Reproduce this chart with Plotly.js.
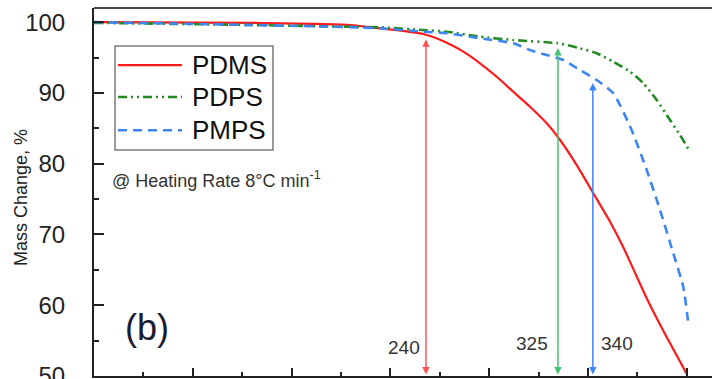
<!DOCTYPE html>
<html>
<head>
<meta charset="utf-8">
<script src="https://cdn.plot.ly/plotly-3.0.1.min.js"></script>
<style>
html,body{margin:0;padding:0;overflow:hidden;background:#fff;}
#chart{width:712px;height:379px;}
</style>
</head>
<body>
<div id="chart"></div>
<script>
// ---- data (temperature in °C, mass change in %) ----
var seriesNames = ["PDMS", "PDPS", "PMPS"];

var pdmsT = [100, 258, 359, 389.5, 433.3, 457, 473.8, 490.7, 507.6, 524.4, 541.3, 558.2, 569.9, 588.6, 605.4, 622.3, 635.7, 645.9, 659.4, 676.2, 689.8, 699.9];
var pdmsM = [100.0, 99.9, 99.6, 99.13, 98.33, 97.1, 95.83, 94.19, 92.29, 90.17, 88.05, 85.71, 83.7, 79.8, 75.82, 71.8, 68.2, 65.1, 61.0, 56.4, 52.9, 50.3];

var pdpsT = [100, 258, 359, 389.5, 433, 457, 490.7, 524.1, 569.9, 591.9, 608.8, 625.6, 642.5, 656, 669.5, 683, 693.1, 703.2];
var pdpsM = [99.9, 99.6, 99.35, 99.27, 98.89, 98.65, 97.95, 97.48, 97.01, 96.3, 95.6, 94.41, 93.0, 91.36, 89.0, 86.17, 84.05, 81.7];

var pmpsT = [100, 258, 359, 389.5, 433.3, 457, 490.7, 524.4, 541.3, 558.2, 575, 591.9, 608.8, 625.6, 644, 659.4, 672.9, 686.3, 696.4, 701.5];
var pmpsM = [100.0, 99.6, 99.3, 99.13, 98.65, 98.43, 97.72, 97.01, 96.06, 95.36, 94.65, 93.24, 91.82, 89.95, 84.8, 79.11, 73.46, 67.34, 62.62, 57.45];

// onset arrows
var onsetLabels = ["240", "325", "340"];
var onsetX = [436, 569.6, 604.9];     // where each arrow is drawn on the temperature axis
var onsetTop = [97.6, 96.35, 91.4];   // mass value at arrow tip

var yTickVals = [50, 60, 70, 80, 90, 100];
var yTickText = ["50", "60", "70", "80", "90", "100"];

// ---- styles ----
var curveStyles = [
  {color: "#ff1a1a", width: 2.2, dash: "solid"},
  {color: "#228b22", width: 2.6, dash: "9px,4px,2px,4px,2px,4px"},
  {color: "#3d85f0", width: 2.6, dash: "9px,6px"}
];
var arrowColors = ["#ff5555", "#45c274", "#3a86ff"];
var labelCfg = [
  {xanchor: "right", xshift: -4, yshift: 29},
  {xanchor: "right", xshift: -8, yshift: 33},
  {xanchor: "left",  xshift: 6,  yshift: 33}
];
var FONT = "Liberation Sans, Arial, sans-serif";

var xs = [pdmsT, pdpsT, pmpsT];
var ys = [pdmsM, pdpsM, pmpsM];

var traces = seriesNames.map(function (n, i) {
  return {
    x: xs[i], y: ys[i], name: n, type: "scatter", mode: "lines",
    line: {color: curveStyles[i].color, width: curveStyles[i].width, dash: curveStyles[i].dash, shape: "spline", smoothing: 0.6},
    showlegend: false, hoverinfo: "skip"
  };
});

var annotations = [];
var shapes = [];

// arrows + labels
onsetLabels.forEach(function (lab, i) {
  annotations.push({
    x: onsetX[i], y: onsetTop[i], ax: onsetX[i], ay: 50,
    xref: "x", yref: "y", axref: "x", ayref: "y",
    text: "", showarrow: true, arrowhead: 2, arrowside: "end+start",
    arrowsize: 1, arrowwidth: 1.5, arrowcolor: arrowColors[i],
    standoff: 0, startstandoff: 0
  });
  annotations.push({
    x: onsetX[i], y: 50, xref: "x", yref: "y",
    text: lab, showarrow: false,
    xanchor: labelCfg[i].xanchor, yanchor: "middle",
    xshift: labelCfg[i].xshift, yshift: labelCfg[i].yshift,
    font: {family: FONT, size: 19, color: "#333"}
  });
});

// custom legend
var legRowY = [0.845, 0.758, 0.668];
shapes.push({type: "rect", xref: "paper", yref: "paper", x0: 0.034, x1: 0.2896, y0: 0.614, y1: 0.897,
  line: {color: "#7a7a7a", width: 1.5}, fillcolor: "rgba(255,255,255,1)", layer: "above"});
seriesNames.forEach(function (n, i) {
  shapes.push({type: "line", xref: "paper", yref: "paper", x0: 0.0388, x1: 0.1424, y0: legRowY[i], y1: legRowY[i],
    line: {color: curveStyles[i].color, width: curveStyles[i].width, dash: curveStyles[i].dash}, layer: "above"});
  annotations.push({xref: "paper", yref: "paper", x: 0.1553, y: legRowY[i], text: n, showarrow: false,
    xanchor: "left", yanchor: "middle", font: {family: FONT, size: 26, color: "#111"}});
});

// top frame line
shapes.push({type: "line", xref: "paper", yref: "paper", x0: 0, x1: 1, y0: 1, y1: 1,
  line: {color: "#444", width: 2}, layer: "above"});

annotations.push({xref: "paper", yref: "paper", x: 0.0259, y: 0.535, text: "@ Heating Rate 8°C min<sup>-1</sup>",
  showarrow: false, xanchor: "left", yanchor: "middle", font: {family: FONT, size: 18, color: "#333"}});
annotations.push({xref: "paper", yref: "paper", x: 0.085, y: 0.133, text: "(b)",
  showarrow: false, xanchor: "center", yanchor: "middle", font: {family: FONT, size: 36, color: "#1b1b33"}});
// y-axis title
annotations.push({xref: "paper", yref: "paper", x: -0.118, y: 0.484, text: "Mass Change, %", textangle: -90,
  showarrow: false, xanchor: "center", yanchor: "middle", font: {family: FONT, size: 18, color: "#222"}});

var layout = {
  width: 712, height: 379,
  margin: {l: 94, r: 0, t: 8, b: 3},
  paper_bgcolor: "#fff", plot_bgcolor: "#fff",
  showlegend: false,
  xaxis: {
    range: [100, 725.5], showgrid: false, zeroline: false,
    showline: true, linecolor: "#222", linewidth: 2,
    ticks: "inside", ticklen: 8, tickwidth: 2, tickcolor: "#222",
    tickmode: "linear", tick0: 100, dtick: 100, showticklabels: false,
    minor: {ticks: "inside", ticklen: 4, tickwidth: 2, tickcolor: "#222", dtick: 50, tick0: 100, showgrid: false}
  },
  yaxis: {
    range: [50, 102], showgrid: false, zeroline: false,
    showline: true, linecolor: "#222", linewidth: 2,
    ticks: "inside", ticklen: 10, tickwidth: 2, tickcolor: "#222",
    tickmode: "array", tickvals: yTickVals, ticktext: yTickText,
    ticklabelstandoff: 22, ticklabeloverflow: "allow",
    tickfont: {family: FONT, size: 24, color: "#222"},
    minor: {ticks: "inside", ticklen: 5, tickwidth: 2, tickcolor: "#222", dtick: 5, tick0: 50, showgrid: false}
  },
  annotations: annotations,
  shapes: shapes
};

Plotly.newPlot("chart", traces, layout, {staticPlot: true, displayModeBar: false});
</script>
</body>
</html>
